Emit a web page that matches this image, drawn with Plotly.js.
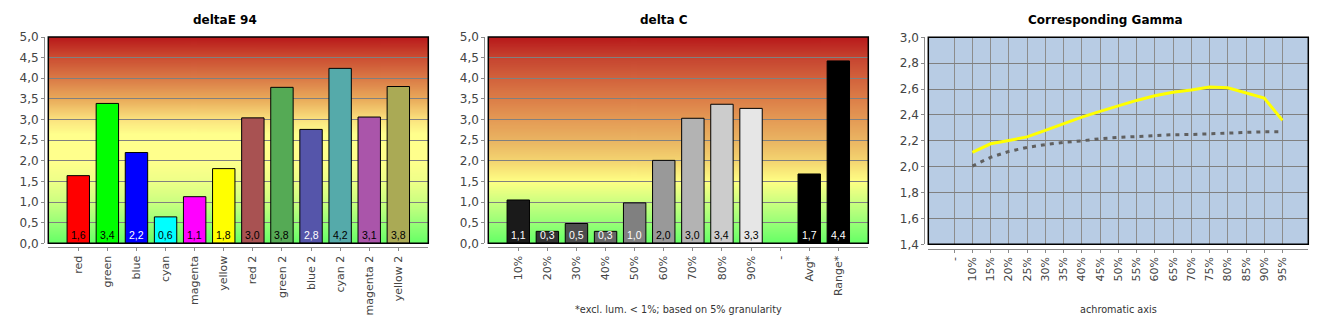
<!DOCTYPE html>
<html><head><meta charset="utf-8">
<script src="https://cdn.plot.ly/plotly-3.0.1.min.js"></script>
<style>html,body{margin:0;padding:0;background:#fff;} #chart{width:1330px;height:330px;}</style>
</head><body><div id="chart"></div>
<script>
// ---------- data ----------
const deCategories = ['red','green','blue','cyan','magenta','yellow','red 2','green 2','blue 2','cyan 2','magenta 2','yellow 2'];
const deValues = [1.64,3.39,2.20,0.64,1.13,1.81,3.04,3.78,2.76,4.24,3.06,3.80];
const deLabels = ['1,6','3,4','2,2','0,6','1,1','1,8','3,0','3,8','2,8','4,2','3,1','3,8'];
const deColors = ['#ff0000','#00ff00','#0000ff','#00ffff','#ff00ff','#ffff00','#a85252','#55aa55','#5555aa','#55aaaa','#aa55aa','#aaaa55'];
const deLabelColors = ['#000','#000','#fff','#000','#000','#000','#000','#000','#fff','#000','#000','#000'];

const dcCategories = ['10%','20%','30%','40%','50%','60%','70%','80%','90%','-','Avg*','Range*'];
const dcValues = [1.05,0.29,0.48,0.29,0.98,2.01,3.03,3.37,3.27,null,1.68,4.42];
const dcLabels = ['1,1','0,3','0,5','0,3','1,0','2,0','3,0','3,4','3,3','','1,7','4,4'];
const dcColors = ['#1a1a1a','#333333','#4d4d4d','#666666','#808080','#999999','#b3b3b3','#cccccc','#e6e6e6','#000000','#000000','#000000'];
const dcLabelColors = ['#fff','#fff','#fff','#fff','#fff','#000','#000','#000','#000','#000','#fff','#fff'];

const gammaCategories = ['-','10%','15%','20%','25%','30%','35%','40%','45%','50%','55%','60%','65%','70%','75%','80%','85%','90%','95%'];
const gammaMeasured = [null,2.11,2.177,2.203,2.23,2.28,2.334,2.383,2.427,2.47,2.512,2.548,2.576,2.592,2.615,2.61,2.571,2.53,2.358];
const gammaTarget = [null,2.005,2.072,2.118,2.149,2.17,2.188,2.2,2.216,2.226,2.234,2.242,2.247,2.249,2.255,2.262,2.265,2.27,2.27];

const titles = ['deltaE 94','delta C','Corresponding Gamma'];
const subtitles = ['', '*excl. lum. < 1%; based on 5% granularity', 'achromatic axis'];

// ---------- layout helpers ----------
const W = 1330, H = 330;
const px = v => v / W;
const py = v => 1 - v / H;
const plots = [
  {x0: 48.3, x1: 428.3, y0: 37, y1: 243.3, xLine: 247.3, yLine: 44},
  {x0: 488.3, x1: 868.3, y0: 37, y1: 243.3, xLine: 247.3, yLine: 484.3},
  {x0: 928.3, x1: 1308.3, y0: 37.3, y1: 244.3, xLine: 248.7, yLine: 924.3}
];
const titleX = [225, 664, 1105];

function gradientURL(stops) {
  const c = document.createElement('canvas');
  c.width = 4; c.height = 400;
  const ctx = c.getContext('2d');
  const g = ctx.createLinearGradient(0, c.height, 0, 0);
  stops.forEach(s => g.addColorStop(s[0], s[1]));
  ctx.fillStyle = g;
  ctx.fillRect(0, 0, c.width, c.height);
  return c.toDataURL();
}
const grad1 = gradientURL([[0,'#66ff66'],[0.1,'#99ff77'],[0.2,'#ccff80'],[0.3,'#eeff88'],[0.4,'#ffff8c'],[0.53,'#ffff8c'],[0.6,'#fbe27e'],[0.7,'#e9aa5a'],[0.8,'#da7a46'],[0.9,'#cc4e32'],[1,'#b8181a']]);
const grad2 = gradientURL([[0,'#66ff66'],[0.1,'#99ff77'],[0.2,'#ccff80'],[0.3,'#ffff84'],[0.4,'#f4d470'],[0.5,'#eab462'],[0.6,'#e49a55'],[0.7,'#dc7e48'],[0.8,'#d2623c'],[0.9,'#c64430'],[1,'#b8181a']]);

const tickFontY = {family: 'DejaVu Sans', size: 12, color: '#444'};
const tickFontX = {family: 'DejaVu Sans', size: 11, color: '#444'};

function axesFor(i, xrange, yrange, dtick, xgrid) {
  const p = plots[i];
  return {
    x: {
      domain: [px(p.x0), px(p.x1)], type: 'category', range: xrange,
      anchor: 'free', position: py(p.xLine),
      showline: true, linecolor: '#8a8a8a', linewidth: 1,
      ticks: 'outside', ticklen: 3, tickcolor: '#8a8a8a',
      tickangle: -90, tickfont: tickFontX,
      showgrid: xgrid, gridcolor: '#8c8c8c', gridwidth: 1, zeroline: false, fixedrange: true
    },
    y: {
      domain: [py(p.y1), py(p.y0)], range: yrange, dtick: dtick, tick0: yrange[0],
      tickformat: '.1f', anchor: 'free', position: px(p.yLine),
      showline: true, linecolor: '#8a8a8a', linewidth: 1,
      ticks: 'outside', ticklen: 3, tickcolor: '#8a8a8a', tickfont: tickFontY,
      showgrid: true, gridcolor: '#808080', gridwidth: 1, zeroline: false, fixedrange: true
    }
  };
}

const a1 = axesFor(0, [-1.03, 12.03], [0, 5], 0.5, false);
const a2 = axesFor(1, [-1.03, 12.03], [0, 5], 0.5, false);
const a3 = axesFor(2, [-1.415, 19.415], [1.4, 3.0], 0.2, true);

const traces = [
  {type: 'bar', x: deCategories, y: deValues, xaxis: 'x', yaxis: 'y', width: 0.77,
   marker: {color: deColors, line: {color: '#000', width: 1}}, hoverinfo: 'skip'},
  {type: 'bar', x: dcCategories, y: dcValues, xaxis: 'x2', yaxis: 'y2', width: 0.77,
   marker: {color: dcColors, line: {color: '#000', width: 1}}, hoverinfo: 'skip'},
  {type: 'scatter', mode: 'lines', x: gammaCategories, y: gammaTarget, xaxis: 'x3', yaxis: 'y3',
   line: {color: '#606060', width: 3, dash: '4px,5px'}, connectgaps: false, hoverinfo: 'skip'},
  {type: 'scatter', mode: 'lines', x: gammaCategories, y: gammaMeasured, xaxis: 'x3', yaxis: 'y3',
   line: {color: '#ffff00', width: 3}, connectgaps: false, hoverinfo: 'skip'}
];

const annotations = [];
titles.forEach((t, i) => annotations.push({
  xref: 'paper', yref: 'paper', x: px(titleX[i]), y: py(20), xanchor: 'center', yanchor: 'middle',
  text: t, showarrow: false, font: {family: 'DejaVu Sans', size: 12, color: '#000', weight: 'bold'}
}));
subtitles.forEach((t, i) => { if (t) annotations.push({
  xref: 'paper', yref: 'paper', x: px((plots[i].x0 + plots[i].x1) / 2), y: py(309), xanchor: 'center', yanchor: 'middle',
  text: t, showarrow: false, font: {family: 'DejaVu Sans', size: 9.7, color: '#333'}
}); });
function barLabels(cats, labels, colors, xr, yr) {
  cats.forEach((c, i) => { if (labels[i]) annotations.push({
    xref: xr, yref: yr, x: c, y: 0, yanchor: 'middle', yshift: 8, text: labels[i], showarrow: false,
    font: {family: 'Liberation Sans', size: 10.5, color: colors[i]}
  }); });
}
barLabels(deCategories, deLabels, deLabelColors, 'x', 'y');
barLabels(dcCategories, dcLabels, dcLabelColors, 'x2', 'y2');

const images = [grad1, grad2].map((src, i) => ({
  source: src, xref: 'paper', yref: 'paper', x: px(plots[i].x0), y: py(plots[i].y0),
  sizex: px(plots[i].x1) - px(plots[i].x0), sizey: py(plots[i].y0) - py(plots[i].y1),
  xanchor: 'left', yanchor: 'top', sizing: 'stretch', layer: 'below'
}));

const shapes = [
  {type: 'rect', xref: 'x3 domain', yref: 'y3 domain', x0: 0, x1: 1, y0: 0, y1: 1,
   fillcolor: '#b8cce4', line: {width: 0}, layer: 'below'}
];
['', '2', '3'].forEach(s => shapes.push({
  type: 'rect', xref: 'x' + s + ' domain', yref: 'y' + s + ' domain', x0: 0, x1: 1, y0: 0, y1: 1,
  line: {color: '#000', width: 1.5}, fillcolor: 'rgba(0,0,0,0)', layer: 'above'
}));

const layout = {
  width: W, height: H, margin: {l: 0, r: 0, t: 0, b: 0},
  paper_bgcolor: '#fff', plot_bgcolor: 'rgba(0,0,0,0)',
  separators: ',.', showlegend: false, hovermode: false, bargap: 0.2,
  xaxis: a1.x, yaxis: a1.y, xaxis2: a2.x, yaxis2: a2.y, xaxis3: a3.x, yaxis3: a3.y,
  annotations: annotations, images: images, shapes: shapes,
  font: {family: 'DejaVu Sans'}
};

Plotly.newPlot('chart', traces, layout, {staticPlot: true, displayModeBar: false});
</script>
</body></html>
